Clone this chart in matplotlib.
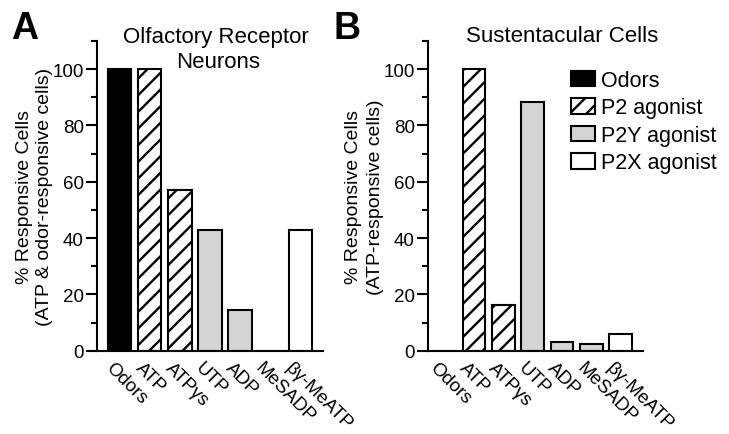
import matplotlib
matplotlib.use("Agg")
import matplotlib.pyplot as plt
from matplotlib.patches import Patch
from matplotlib.ticker import MultipleLocator
import matplotlib.transforms as mtransforms

plt.rcParams['font.family'] = ['Liberation Sans', 'DejaVu Sans']
plt.rcParams['hatch.linewidth'] = 1.7

categories = ['Odors', 'ATP', 'ATP\u03b3s', 'UTP', 'ADP', 'MeSADP', '\u03b2\u03b3-MeATP']
orn_values = [100, 100, 57.1, 42.9, 14.3, 0, 42.9]
sus_values = [0, 100, 16.3, 88.3, 3.2, 2.5, 5.8]
bar_class = ['Odors', 'P2 agonist', 'P2 agonist', 'P2Y agonist', 'P2Y agonist', 'P2Y agonist', 'P2X agonist']
legend_labels = ['Odors', 'P2 agonist', 'P2Y agonist', 'P2X agonist']

styles = {
    'Odors': dict(facecolor='black', hatch=None),
    'P2 agonist': dict(facecolor='white', hatch='//'),
    'P2Y agonist': dict(facecolor='#d4d4d4', hatch=None),
    'P2X agonist': dict(facecolor='white', hatch=None),
}

W, H = 729, 435
fig = plt.figure(figsize=(W / 100, H / 100), dpi=100)

def fx(px):
    return px / W

def fy(py):
    return 1 - py / H

axA = fig.add_axes([fx(97), fy(351.7), fx(322.7) - fx(97), fy(42) - fy(351.7)])
axB = fig.add_axes([fx(428), fy(351.7), fx(642.7) - fx(428), fy(42) - fy(351.7)])

def draw(ax, values, xlim):
    x = list(range(len(categories)))
    for xi, v, c in zip(x, values, bar_class):
        st = styles[c]
        if v <= 0:
            continue
        ax.bar(xi, v, width=0.77, facecolor=st['facecolor'], edgecolor='black',
               linewidth=1.5, hatch=st['hatch'], zorder=2)
    ax.set_xlim(*xlim)
    ax.set_ylim(0, 110)
    ax.spines['top'].set_visible(False)
    ax.spines['right'].set_visible(False)
    ax.spines['left'].set_linewidth(1.5)
    ax.spines['bottom'].set_linewidth(1.5)
    ax.yaxis.set_major_locator(MultipleLocator(20))
    ax.yaxis.set_minor_locator(MultipleLocator(10))
    ax.tick_params(axis='y', which='major', length=8, width=1.5, pad=1.5, labelsize=13.5)
    ax.tick_params(axis='y', which='minor', length=4.5, width=1.5)
    ax.set_yticks([0, 20, 40, 60, 80, 100])
    ax.set_xticks(x)
    ax.set_xticklabels(categories, rotation=-45, ha='left', va='top',
                       rotation_mode='anchor', fontsize=13.5)
    ax.tick_params(axis='x', length=0, pad=6)
    off = mtransforms.ScaledTranslation(-6 / 100, 0, fig.dpi_scale_trans)
    for lab in ax.get_xticklabels():
        lab.set_transform(lab.get_transform() + off)

draw(axA, orn_values, (-0.76, 6.75))
draw(axB, sus_values, (-0.57, 6.75))

# panel letters
fig.text(fx(11), fy(39), 'A', fontsize=27, fontweight='bold', ha='left', va='baseline')
fig.text(fx(333), fy(39), 'B', fontsize=27, fontweight='bold', ha='left', va='baseline')

# titles
fig.text(fx(216), fy(43), 'Olfactory Receptor', fontsize=16, ha='center', va='baseline')
fig.text(fx(218), fy(68), 'Neurons', fontsize=16, ha='center', va='baseline')
fig.text(fx(562), fy(42), 'Sustentacular Cells', fontsize=16, ha='center', va='baseline')

# y labels
fig.text(fx(25), fy(197), '% Responsive Cells', fontsize=14, rotation=90, ha='center', va='center')
fig.text(fx(45), fy(197), '(ATP & odor-responsive cells)', fontsize=14, rotation=90, ha='center', va='center')
fig.text(fx(354), fy(197), '% Responsive Cells', fontsize=14, rotation=90, ha='center', va='center')
fig.text(fx(376), fy(197), '(ATP-responsive cells)', fontsize=14, rotation=90, ha='center', va='center')

handles = [Patch(facecolor=styles[l]['facecolor'], edgecolor='black', linewidth=1.5,
                 hatch=styles[l]['hatch'], label=l) for l in legend_labels]
fig.legend(handles=handles, loc='upper left', bbox_to_anchor=(fx(571), fy(71)),
           frameon=False, fontsize=15.5, handlelength=1.1, handleheight=0.75,
           handletextpad=0.3, labelspacing=0.3, borderpad=0, borderaxespad=0)

fig.savefig('out.png', dpi=100)
